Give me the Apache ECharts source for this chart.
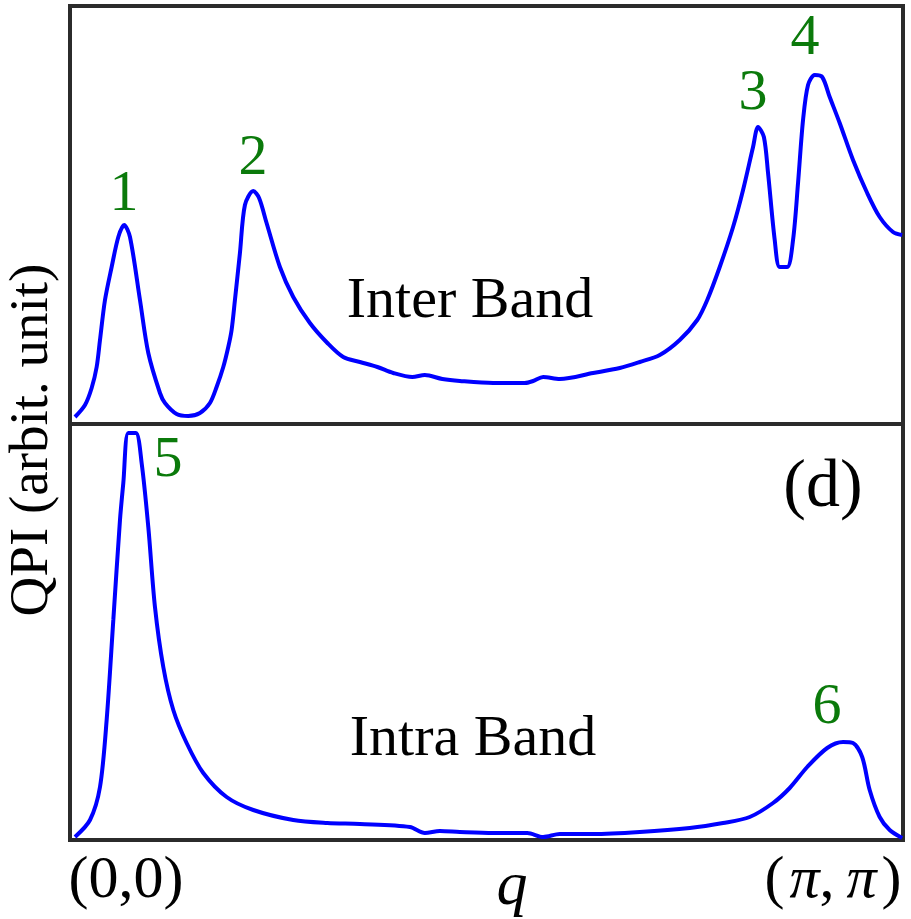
<!DOCTYPE html>
<html>
<head>
<meta charset="utf-8">
<script src="https://cdn.jsdelivr.net/npm/echarts@6/dist/echarts.min.js"></script>
<style>
  html, body { margin: 0; padding: 0; background: #fff; }
  #main { width: 911px; height: 919px; }
</style>
</head>
<body>
<div id="main"></div>
<script>
// q runs from (0,0) to (pi,pi), normalised to 0..1
var interQ = [0.006, 0.018, 0.026, 0.032, 0.036, 0.042, 0.050, 0.058, 0.065, 0.072, 0.084, 0.094, 0.108, 0.114, 0.128, 0.142, 0.156, 0.168, 0.176, 0.184, 0.190, 0.194, 0.198, 0.204, 0.210, 0.220, 0.227, 0.236, 0.252, 0.268, 0.288, 0.309, 0.328, 0.348, 0.369, 0.388, 0.411, 0.426, 0.447, 0.468, 0.508, 0.546, 0.556, 0.568, 0.588, 0.628, 0.660, 0.684, 0.708, 0.732, 0.753, 0.765, 0.780, 0.796, 0.808, 0.820, 0.826, 0.833, 0.838, 0.846, 0.852, 0.861, 0.868, 0.874, 0.880, 0.886, 0.894, 0.903, 0.912, 0.924, 0.940, 0.957, 0.972, 0.988, 0.999];
var interQPI = [7, 19, 36, 57, 84, 124, 157, 187, 199, 187, 124, 71, 31, 21, 10, 8, 11, 21, 37, 57, 77, 94, 124, 171, 219, 233, 226, 201, 157, 127, 101, 81, 67, 62, 57, 51, 47, 49, 45, 43, 41, 41, 43, 47, 45, 51, 56, 62, 69, 84, 104, 124, 157, 197, 234, 277, 297, 287, 251, 184, 157, 157, 184, 241, 304, 339, 349, 347, 327, 301, 264, 231, 207, 192, 189];

var intraQ = [0.006, 0.024, 0.036, 0.044, 0.052, 0.060, 0.064, 0.070, 0.079, 0.086, 0.094, 0.102, 0.112, 0.124, 0.140, 0.160, 0.188, 0.220, 0.268, 0.309, 0.348, 0.408, 0.426, 0.444, 0.468, 0.508, 0.549, 0.568, 0.588, 0.628, 0.684, 0.744, 0.784, 0.816, 0.844, 0.864, 0.885, 0.909, 0.928, 0.940, 0.951, 0.960, 0.972, 0.984, 0.999];
var intraQPI = [3, 20, 53, 120, 220, 320, 357, 407, 407, 377, 313, 233, 173, 130, 97, 67, 43, 30, 20, 17, 16, 13, 7, 9, 8, 7, 7, 3, 6, 6, 8, 12, 17, 23, 37, 52, 73, 92, 98, 97, 83, 50, 23, 10, 2];

var peakLabels = ['1', '2', '3', '4', '5', '6'];
var panelLabels = ['Inter Band', 'Intra Band', '(d)'];
var xTickLabels = ['(0,0)', 'q', '{n|(\u200a}{i|\u03c0}{n|,\u2009}{i|\u03c0}{n|\u200a)}'];
var yLabel = 'QPI (arbit. unit)';

function pairs(xs, ys) {
  return xs.map(function (x, i) { return [x, ys[i]]; });
}

var chart = echarts.init(document.getElementById('main'));

var serif = 'Liberation Serif';
var green = '#0b7a0b';

function txt(s, x, y, size, color, italic) {
  return {
    type: 'text', x: x, y: y, z: 100,
    style: {
      text: s, fill: color || '#000',
      fontFamily: serif, fontSize: size, fontStyle: italic ? 'italic' : 'normal',
      align: 'center', verticalAlign: 'middle'
    }
  };
}

var piLabel = txt(xTickLabels[2], 833, 881, 60);
piLabel.style.rich = {
  n: { fontFamily: serif, fontSize: 60, fill: '#000' },
  i: { fontFamily: serif, fontSize: 60, fontStyle: 'italic', fill: '#000' }
};

var option = {
  animation: false,
  backgroundColor: '#fff',
  grid: [
    { left: 70, right: 8, top: 6, height: 418, show: true, borderColor: '#2b2b2b', borderWidth: 4, backgroundColor: 'transparent' },
    { left: 70, right: 8, top: 424, height: 416, show: true, borderColor: '#2b2b2b', borderWidth: 4, backgroundColor: 'transparent' }
  ],
  xAxis: [
    { gridIndex: 0, type: 'value', min: 0, max: 1, show: false },
    { gridIndex: 1, type: 'value', min: 0, max: 1, show: false }
  ],
  yAxis: [
    { gridIndex: 0, type: 'value', min: 0, max: 418, show: false },
    { gridIndex: 1, type: 'value', min: 0, max: 416, show: false }
  ],
  series: [
    {
      type: 'line', xAxisIndex: 0, yAxisIndex: 0,
      data: pairs(interQ, interQPI), showSymbol: false,
      smooth: 0.3,
      lineStyle: { color: '#0000ff', width: 4 }
    },
    {
      type: 'line', xAxisIndex: 1, yAxisIndex: 1,
      data: pairs(intraQ, intraQPI), showSymbol: false,
      smooth: 0.3,
      lineStyle: { color: '#0000ff', width: 4 }
    }
  ],
  graphic: [
    txt(peakLabels[0], 124, 195, 58, green),
    txt(peakLabels[1], 253, 159, 58, green),
    txt(peakLabels[2], 753, 94, 58, green),
    txt(peakLabels[3], 805, 39, 58, green),
    txt(peakLabels[4], 168, 461, 58, green),
    txt(peakLabels[5], 827, 708, 58, green),
    txt(panelLabels[0], 470, 302, 58),
    txt(panelLabels[1], 473, 740, 58),
    txt(panelLabels[2], 823, 488, 68),
    txt(xTickLabels[0], 126, 881, 60),
    txt(xTickLabels[1], 512, 888, 62, '#000', true),
    piLabel,
    {
      type: 'text', x: 33, y: 440, rotation: Math.PI / 2, z: 100,
      style: {
        text: yLabel, fill: '#000', fontFamily: serif, fontSize: 55,
        align: 'center', verticalAlign: 'middle'
      }
    }
  ]
};

chart.setOption(option);
</script>
</body>
</html>
